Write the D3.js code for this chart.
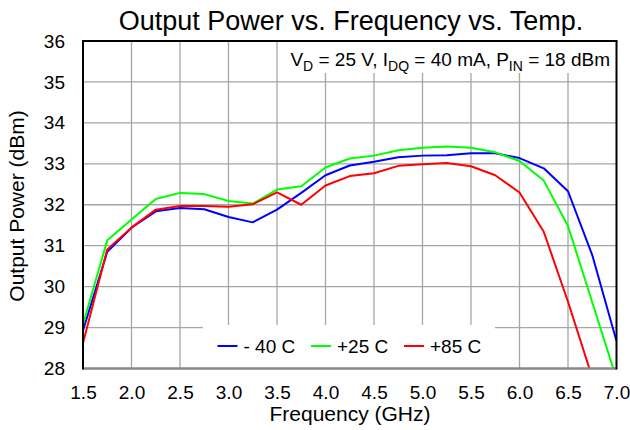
<!DOCTYPE html>
<html>
<head>
<meta charset="utf-8">
<script src="https://cdn.jsdelivr.net/npm/d3@7"></script>
<style>
  body { margin: 0; background: #fff; }
  text { font-family: "Liberation Sans", Arial, sans-serif; fill: #000; }
</style>
</head>
<body>
<div id="chart-area"></div>
<script>
// frequency points (GHz)
var freqs = [1.5, 1.75, 2.0, 2.25, 2.5, 2.75, 3.0, 3.25, 3.5, 3.75, 4.0, 4.25,
             4.5, 4.75, 5.0, 5.25, 5.5, 5.75, 6.0, 6.25, 6.5, 6.75, 7.0];

var pMinus40 = [28.93, 30.85, 31.44, 31.84, 31.92, 31.89, 31.70, 31.57, 31.88, 32.29, 32.72, 32.96,
                33.05, 33.16, 33.20, 33.21, 33.26, 33.26, 33.14, 32.89, 32.33, 30.77, 28.67];
var pPlus25 = [29.08, 31.13, 31.64, 32.14, 32.29, 32.26, 32.09, 32.03, 32.37, 32.45, 32.91, 33.13,
               33.20, 33.33, 33.39, 33.42, 33.39, 33.28, 33.07, 32.59, 31.48, 29.62, 27.75];
var pPlus85 = [28.62, 30.91, 31.44, 31.88, 31.97, 31.97, 31.95, 32.01, 32.30, 32.00, 32.47, 32.70,
               32.77, 32.95, 32.99, 33.02, 32.94, 32.72, 32.30, 31.34, 29.63, 27.78, 26.0];

var seriesNames = ["- 40 C", "+25 C", "+85 C"];
var seriesColors = ["#0000ff", "#00ff00", "#ff0000"];

var xTicks = [1.5, 2.0, 2.5, 3.0, 3.5, 4.0, 4.5, 5.0, 5.5, 6.0, 6.5, 7.0];
var yTicks = [28, 29, 30, 31, 32, 33, 34, 35, 36];

var width = 630, height = 430;
var pl = 83, pr = 616.5, pt = 41, pb = 368.5;

var svg = d3.select("#chart-area").append("svg")
    .attr("width", width)
    .attr("height", height);

var x = d3.scaleLinear().domain([1.5, 7.0]).range([pl, pr]);
var y = d3.scaleLinear().domain([28, 36]).range([pb, pt]);

// grid
svg.append("g").selectAll("line")
    .data(xTicks.slice(1, -1))
    .enter().append("line")
        .attr("x1", d => x(d)).attr("x2", d => x(d))
        .attr("y1", pt).attr("y2", pb)
        .attr("stroke", "#a6a6a6").attr("stroke-width", 1.3);

svg.append("g").selectAll("line")
    .data(yTicks.slice(1, -1))
    .enter().append("line")
        .attr("x1", pl).attr("x2", pr)
        .attr("y1", d => y(d)).attr("y2", d => y(d))
        .attr("stroke", "#a6a6a6").attr("stroke-width", 1.3);

// white boxes for annotation and legend (cover grid)
svg.append("rect").attr("x", 278).attr("y", pt + 1).attr("width", pr - 278 - 1).attr("height", 31)
    .attr("fill", "#fff");
svg.append("rect").attr("x", 203).attr("y", 325).attr("width", 292).attr("height", pb - 325 - 1)
    .attr("fill", "#fff");

// lines
svg.append("clipPath").attr("id", "clip")
  .append("rect").attr("x", pl).attr("y", pt).attr("width", pr - pl).attr("height", pb - pt);

var line = d3.line()
    .x((d, i) => x(freqs[i]))
    .y(d => y(d));

[pMinus40, pPlus25, pPlus85].forEach((s, i) => {
    svg.append("path")
        .datum(s)
        .attr("clip-path", "url(#clip)")
        .attr("fill", "none")
        .attr("stroke", seriesColors[i])
        .attr("stroke-width", 2)
        .attr("stroke-linejoin", "round")
        .attr("d", line);
});

// frame
svg.append("line").attr("x1", pl).attr("x2", pr).attr("y1", pb).attr("y2", pb)
    .attr("stroke", "#888").attr("stroke-width", 2.5);
svg.append("line").attr("x1", pl).attr("x2", pl).attr("y1", pt).attr("y2", pb + 1)
    .attr("stroke", "#000").attr("stroke-width", 2);
svg.append("line").attr("x1", pr).attr("x2", pr).attr("y1", pt).attr("y2", pb + 1)
    .attr("stroke", "#000").attr("stroke-width", 2);
svg.append("line").attr("x1", pl - 1).attr("x2", pr + 1).attr("y1", pt).attr("y2", pt)
    .attr("stroke", "#000").attr("stroke-width", 2);

// axes labels
var xAxis = d3.axisBottom(x).tickValues(xTicks).tickFormat(d3.format(".1f")).tickSize(0).tickPadding(17);
var gx = svg.append("g").attr("transform", "translate(0," + pb + ")").call(xAxis);
gx.select(".domain").remove();
gx.selectAll("text").attr("font-size", 19).attr("font-family", "Liberation Sans, Arial, sans-serif").attr("fill", "#000");

var yAxis = d3.axisLeft(y).tickValues(yTicks).tickFormat(d3.format("d")).tickSize(0).tickPadding(18);
var gy = svg.append("g").attr("transform", "translate(" + pl + ",0)").call(yAxis);
gy.select(".domain").remove();
gy.selectAll("text").attr("font-size", 19).attr("font-family", "Liberation Sans, Arial, sans-serif").attr("fill", "#000");

// titles
svg.append("text").attr("x", 351).attr("y", 30).attr("text-anchor", "middle")
    .attr("font-size", 27).text("Output Power vs. Frequency vs. Temp.");

svg.append("text").attr("x", 350).attr("y", 421).attr("text-anchor", "middle")
    .attr("font-size", 21).text("Frequency (GHz)");

svg.append("text").attr("transform", "translate(24,206) rotate(-90)").attr("text-anchor", "middle")
    .attr("font-size", 21).text("Output Power (dBm)");

// annotation with subscripts
var ann = svg.append("text").attr("x", 610).attr("y", 66).attr("text-anchor", "end").attr("font-size", 19);
ann.append("tspan").text("V");
ann.append("tspan").attr("font-size", 14).attr("dy", 5).text("D");
ann.append("tspan").attr("dy", -5).text(" = 25 V, I");
ann.append("tspan").attr("font-size", 14).attr("dy", 5).text("DQ");
ann.append("tspan").attr("dy", -5).text(" = 40 mA, P");
ann.append("tspan").attr("font-size", 14).attr("dy", 5).text("IN");
ann.append("tspan").attr("dy", -5).text(" = 18 dBm");

// legend
var legX = [217.5, 311, 404];
var leg = svg.append("g").selectAll("g")
    .data(seriesNames)
    .enter().append("g")
        .attr("transform", (d, i) => "translate(" + legX[i] + ",346)");
leg.append("line").attr("x1", 0).attr("x2", 20).attr("y1", 0).attr("y2", 0)
    .attr("stroke", (d, i) => seriesColors[i]).attr("stroke-width", 2);
leg.append("text").attr("x", 26).attr("y", 7).attr("font-size", 19).text(d => d);
</script>
</body>
</html>
